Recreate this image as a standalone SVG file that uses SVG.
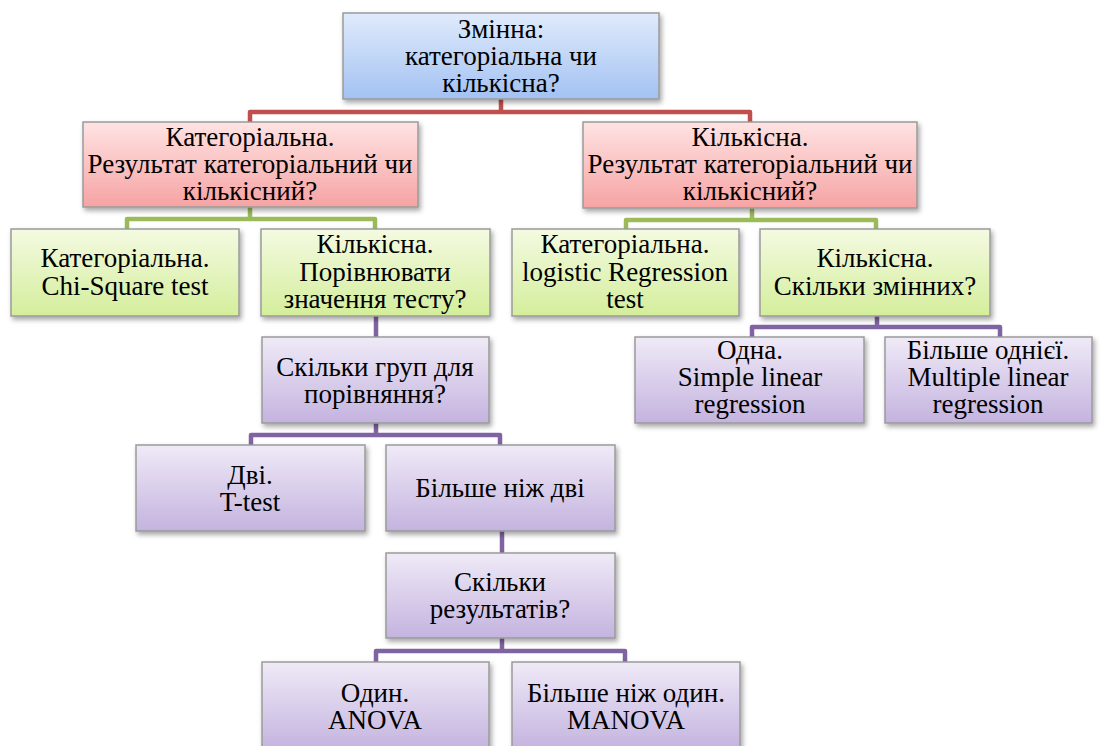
<svg xmlns="http://www.w3.org/2000/svg" width="1101" height="746" viewBox="0 0 1101 746">
<defs>
<linearGradient id="gBlue" x1="0" y1="0" x2="0" y2="1"><stop offset="0" stop-color="#e0ebfc"/><stop offset="1" stop-color="#a3c2f2"/></linearGradient>
<linearGradient id="gRed" x1="0" y1="0" x2="0" y2="1"><stop offset="0" stop-color="#ffe3e3"/><stop offset="1" stop-color="#f6a3a3"/></linearGradient>
<linearGradient id="gGreen" x1="0" y1="0" x2="0" y2="1"><stop offset="0" stop-color="#f4fae2"/><stop offset="1" stop-color="#d4ee9b"/></linearGradient>
<linearGradient id="gPurple" x1="0" y1="0" x2="0" y2="1"><stop offset="0" stop-color="#efeaf7"/><stop offset="1" stop-color="#c4b3df"/></linearGradient>
<filter id="sh" x="-10%" y="-10%" width="125%" height="130%"><feDropShadow dx="2" dy="3" stdDeviation="2.5" flood-color="#000" flood-opacity="0.35"/></filter>
</defs>
<style>
.box{stroke:#9a9a9a;stroke-width:1.5;filter:url(#sh)}
.blue{fill:url(#gBlue)}.red{fill:url(#gRed)}.green{fill:url(#gGreen)}.purple{fill:url(#gPurple)}
.t text{font-size:27px;fill:#000;text-anchor:middle}
.c{fill:none;stroke-width:4.5;stroke-linejoin:round}
.cr{stroke:#c0504d}.cg{stroke:#9bbb59}.cp{stroke:#8064a2}
</style>
<g id="connectors">
<path class="c cr" d="M250,122 V112 H750 V122 M501,99 V112"/>
<path class="c cg" d="M127,229 V219 H375 V229 M250,207 V219"/>
<path class="c cg" d="M626,229 V220 H876 V229 M752,208 V220"/>
<path class="c cp" d="M376,316 V337"/>
<path class="c cp" d="M752,337 V327 H1000 V337 M877,316 V327"/>
<path class="c cp" d="M251,445 V435 H500 V445 M376,423 V435"/>
<path class="c cp" d="M502,531 V553"/>
<path class="c cp" d="M376,662 V651 H625 V662 M502,638 V651"/>
</g>
<g class="t" font-family="Liberation Serif, Tinos, DejaVu Serif, serif">
<g id="n-root"><rect class="box blue" x="343" y="13" width="316" height="86"/>
<text x="501" y="38">Змінна:</text><text x="501" y="65">категоріальна чи</text><text x="501" y="92">кількісна?</text></g>
<g id="n-cat"><rect class="box red" x="83" y="122" width="335" height="85"/>
<text x="250" y="146">Категоріальна.</text><text x="250" y="173">Результат категоріальний чи</text><text x="250" y="200">кількісний?</text></g>
<g id="n-quant"><rect class="box red" x="583" y="122" width="334" height="86"/>
<text x="750" y="146">Кількісна.</text><text x="750" y="173">Результат категоріальний чи</text><text x="750" y="200">кількісний?</text></g>
<g id="n-chi"><rect class="box green" x="11" y="229" width="228" height="87"/>
<text x="125" y="267">Категоріальна.</text><text x="125" y="295">Chi-Square test</text></g>
<g id="n-compare"><rect class="box green" x="261" y="229" width="229" height="87"/>
<text x="375" y="253">Кількісна.</text><text x="375" y="281">Порівнювати</text><text x="375" y="308">значення тесту?</text></g>
<g id="n-logistic"><rect class="box green" x="512" y="229" width="227" height="87"/>
<text x="625" y="253">Категоріальна.</text><text x="625" y="281">logistic Regression</text><text x="625" y="308">test</text></g>
<g id="n-howmanyvars"><rect class="box green" x="760" y="229" width="230" height="87"/>
<text x="875" y="267">Кількісна.</text><text x="875" y="295">Скільки змінних?</text></g>
<g id="n-groups"><rect class="box purple" x="262" y="337" width="227" height="86"/>
<text x="375" y="376">Скільки груп для</text><text x="375" y="403">порівняння?</text></g>
<g id="n-simple"><rect class="box purple" x="635" y="337" width="229" height="86"/>
<text x="750" y="359">Одна.</text><text x="750" y="386">Simple linear</text><text x="750" y="413">regression</text></g>
<g id="n-multiple"><rect class="box purple" x="885" y="337" width="207" height="86"/>
<text x="988" y="359">Більше однієї.</text><text x="988" y="386">Multiple linear</text><text x="988" y="413">regression</text></g>
<g id="n-ttest"><rect class="box purple" x="136" y="445" width="229" height="86"/>
<text x="250" y="484">Дві.</text><text x="250" y="511">T-test</text></g>
<g id="n-more2"><rect class="box purple" x="386" y="445" width="229" height="86"/>
<text x="500" y="497">Більше ніж дві</text></g>
<g id="n-results"><rect class="box purple" x="386" y="553" width="229" height="85"/>
<text x="500" y="591">Скільки</text><text x="500" y="618">результатів?</text></g>
<g id="n-anova"><rect class="box purple" x="262" y="662" width="227" height="88"/>
<text x="375" y="702">Один.</text><text x="375" y="729">ANOVA</text></g>
<g id="n-manova"><rect class="box purple" x="512" y="662" width="228" height="88"/>
<text x="626" y="702">Більше ніж один.</text><text x="626" y="729">MANOVA</text></g>
</g>
</svg>
